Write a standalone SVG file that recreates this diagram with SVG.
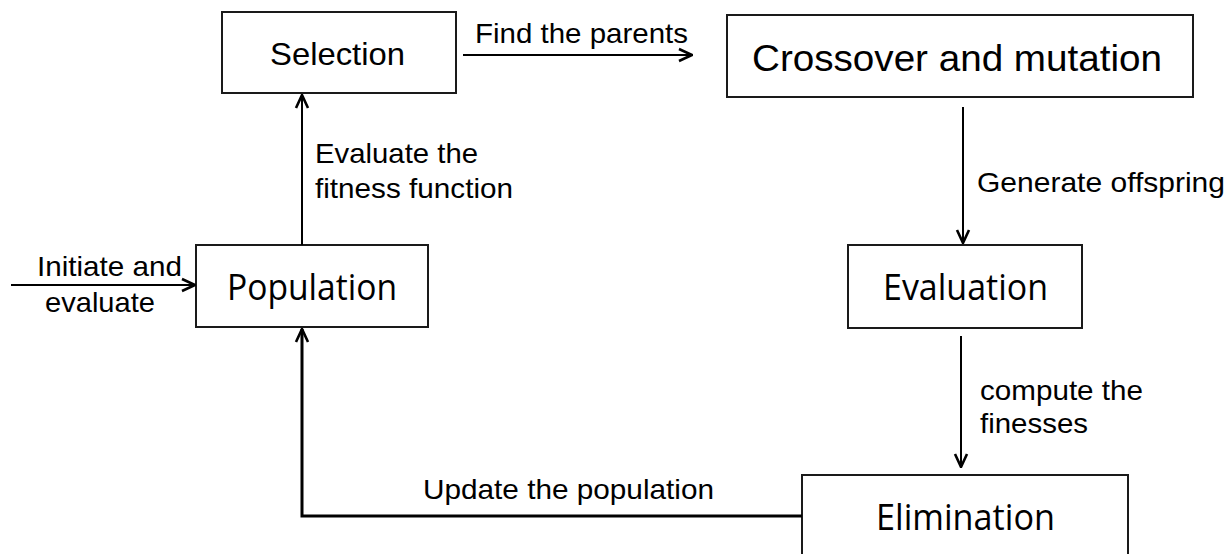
<svg xmlns="http://www.w3.org/2000/svg" width="1231" height="554" viewBox="0 0 1231 554">
<style>
.box{fill:#fff;stroke:#1a1a1a;stroke-width:2}
.arial{font-family:"Liberation Sans",Arial,sans-serif;fill:#000}
.cal{font-family:"Open Sans",Lato,sans-serif;fill:#000;font-variant-ligatures:none;font-feature-settings:"liga" 0,"clig" 0,"dlig" 0}
.lbl{font-size:28px}
.conn{fill:none;stroke:#000;stroke-width:2}
</style>
<defs>
<marker id="arr" markerUnits="userSpaceOnUse" viewBox="0 0 16 16" refX="15" refY="8" markerWidth="16" markerHeight="16" orient="auto">
<path d="M2,2 L15,8 L2,14" fill="none" stroke="#000" stroke-width="2.6" stroke-linejoin="miter"/>
</marker>
</defs>
<rect width="1231" height="554" fill="#fff"/>
<g id="selection">
<rect class="box" x="222" y="12" width="234" height="81"/>
<text class="arial" x="270" y="65" font-size="32" textLength="135" lengthAdjust="spacingAndGlyphs">Selection</text>
</g>
<g id="crossover">
<rect class="box" x="727" y="15" width="466" height="82"/>
<text class="arial" x="752" y="71" font-size="36" textLength="410" lengthAdjust="spacingAndGlyphs">Crossover and mutation</text>
</g>
<g id="population">
<rect class="box" x="196" y="245" width="232" height="82"/>
<text class="cal" x="227" y="300" font-size="36" textLength="170" lengthAdjust="spacingAndGlyphs">Population</text>
</g>
<g id="evaluation">
<rect class="box" x="848" y="245" width="234" height="83"/>
<text class="cal" x="883" y="300" font-size="36" textLength="165" lengthAdjust="spacingAndGlyphs">Evaluation</text>
</g>
<g id="elimination">
<rect class="box" x="802" y="475" width="326" height="100"/>
<text class="cal" x="876" y="530" font-size="36" textLength="179" lengthAdjust="spacingAndGlyphs">Elimination</text>
</g>
<g id="connectors">
<line class="conn" x1="11" y1="285" x2="195" y2="285" marker-end="url(#arr)"/>
<line class="conn" x1="302" y1="245" x2="302" y2="95" marker-end="url(#arr)"/>
<line class="conn" x1="463" y1="55" x2="692" y2="55" marker-end="url(#arr)"/>
<line class="conn" x1="963" y1="107" x2="963" y2="243" marker-end="url(#arr)"/>
<line class="conn" x1="961" y1="336" x2="961" y2="467" marker-end="url(#arr)"/>
<path class="conn" style="stroke-width:3" d="M802,516 H302 V329" marker-end="url(#arr)"/>
</g>
<g id="labels">
<text class="arial lbl" x="37" y="276" textLength="145" lengthAdjust="spacingAndGlyphs">Initiate and</text>
<text class="arial lbl" x="45" y="312" textLength="110" lengthAdjust="spacingAndGlyphs">evaluate</text>
<text class="arial lbl" x="315" y="163" textLength="163" lengthAdjust="spacingAndGlyphs">Evaluate the</text>
<text class="arial lbl" x="315" y="198" textLength="198" lengthAdjust="spacingAndGlyphs">fitness function</text>
<text class="arial lbl" x="475" y="43" textLength="213" lengthAdjust="spacingAndGlyphs">Find the parents</text>
<text class="arial lbl" x="977" y="192" textLength="248" lengthAdjust="spacingAndGlyphs">Generate offspring</text>
<text class="arial lbl" x="980" y="400" textLength="163" lengthAdjust="spacingAndGlyphs">compute the</text>
<text class="arial lbl" x="980" y="433" textLength="108" lengthAdjust="spacingAndGlyphs">finesses</text>
<text class="arial lbl" x="423" y="499" textLength="291" lengthAdjust="spacingAndGlyphs">Update the population</text>
</g>
</svg>
